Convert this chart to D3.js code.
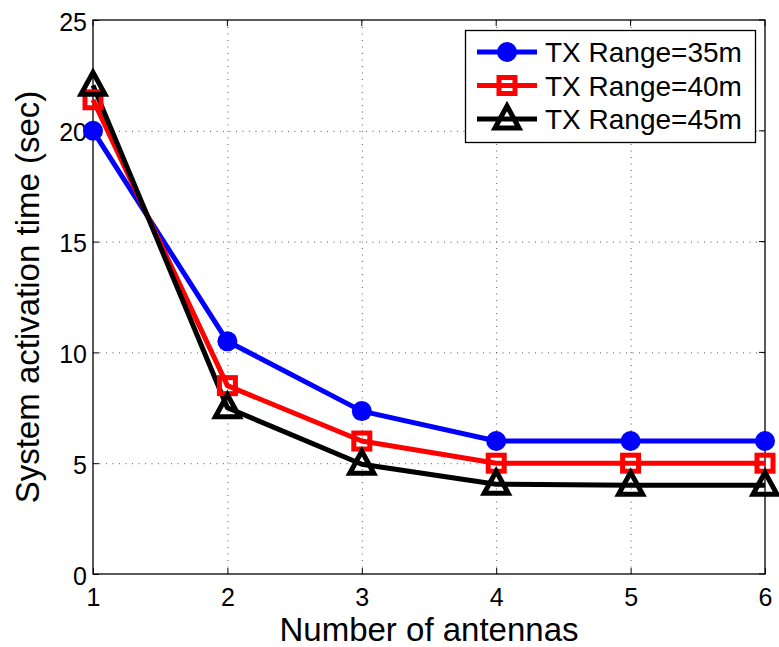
<!DOCTYPE html>
<html>
<head>
<meta charset="utf-8">
<script src="https://cdn.jsdelivr.net/npm/d3@7"></script>
<style>
  body { margin: 0; background: #fff; }
  text { font-family: "Liberation Sans", Arial, sans-serif; fill: #000; }
</style>
</head>
<body>
<div class="chart"></div>
<script>
// data
var antennas = [1, 2, 3, 4, 5, 6];
var range35 = [20, 10.5, 7.35, 6, 6, 6];
var range40 = [21.4, 8.5, 6, 5, 5, 5];
var range45 = [22.05, 7.5, 4.95, 4.05, 4, 4];
var seriesNames = ["TX Range=35m", "TX Range=40m", "TX Range=45m"];
var yTicks = [0, 5, 10, 15, 20, 25];

var width = 779, height = 647;
var mLeft = 93, mRight = 765, mTop = 20, mBottom = 574;

var svg = d3.select(".chart").append("svg")
  .attr("width", width).attr("height", height);

var x = d3.scaleLinear().domain([1, 6]).range([mLeft, mRight]);
var y = d3.scaleLinear().domain([0, 25]).range([mBottom, mTop]);

// grid
var grid = svg.append("g").attr("stroke", "#555").attr("stroke-width", 1)
  .attr("stroke-dasharray", "1,5.5");
grid.selectAll(".gx").data(antennas.slice(1, -1)).enter().append("line")
  .attr("x1", d => x(d) + 0.5).attr("x2", d => x(d) + 0.5)
  .attr("y1", mBottom).attr("y2", mTop);
grid.selectAll(".gy").data(yTicks.slice(1, -1)).enter().append("line")
  .attr("y1", d => y(d) + 0.5).attr("y2", d => y(d) + 0.5)
  .attr("x1", mLeft).attr("x2", mRight);

// axes
var xAxis = svg.append("g").attr("transform", `translate(0,${mBottom})`)
  .call(d3.axisBottom(x).tickValues(antennas).tickSize(-6).tickPadding(14).tickFormat(d3.format("d")));
var yAxis = svg.append("g").attr("transform", `translate(${mLeft},0)`)
  .call(d3.axisLeft(y).tickValues(yTicks).tickSize(-6).tickPadding(6));
[xAxis, yAxis].forEach(a => {
  a.select(".domain").remove();
  a.selectAll("line").attr("stroke", "#000");
  a.selectAll("text").attr("fill", "#000").style("font-size", "25px");
});
xAxis.selectAll("text").attr("dy", "0.72em");
yAxis.selectAll("text").attr("dy", "0.4em");
// top/right ticks
svg.append("g").selectAll("line").data(antennas).enter().append("line")
  .attr("x1", d => x(d)).attr("x2", d => x(d)).attr("y1", mTop).attr("y2", mTop + 6)
  .attr("stroke", "#000");
svg.append("g").selectAll("line").data(yTicks).enter().append("line")
  .attr("y1", d => y(d)).attr("y2", d => y(d)).attr("x1", mRight).attr("x2", mRight - 6)
  .attr("stroke", "#000");

svg.append("rect").attr("x", mLeft).attr("y", mTop)
  .attr("width", mRight - mLeft).attr("height", mBottom - mTop)
  .attr("fill", "none").attr("stroke", "#000").attr("stroke-width", 1.3);

// labels
svg.append("text").attr("x", (mLeft + mRight) / 2).attr("y", 641)
  .attr("text-anchor", "middle").style("font-size", "33px").text("Number of antennas");
svg.append("text").attr("transform", `translate(39,${(mTop + mBottom) / 2}) rotate(-90)`)
  .attr("text-anchor", "middle").style("font-size", "33px").text("System activation time (sec)");

// series
var series = [
  { name: seriesNames[0], values: range35, color: "#0000ff", marker: "circle" },
  { name: seriesNames[1], values: range40, color: "#ff0000", marker: "square" },
  { name: seriesNames[2], values: range45, color: "#000000", marker: "triangle" },
];

var line = d3.line().x((d, i) => x(antennas[i])).y(d => y(d));

function drawMarker(g, type, color) {
  if (type === "circle") {
    g.append("circle").attr("r", 10).attr("fill", color);
  } else if (type === "square") {
    g.append("rect").attr("x", -8).attr("y", -8).attr("width", 16).attr("height", 16)
      .attr("fill", "none").attr("stroke", color).attr("stroke-width", 5);
  } else {
    g.append("path").attr("d", "M0,-13 L12,9 L-12,9 Z")
      .attr("fill", "none").attr("stroke", color).attr("stroke-width", 5)
      .attr("stroke-linejoin", "miter");
  }
}

series.forEach(s => {
  svg.append("path").datum(s.values).attr("d", line)
    .attr("fill", "none").attr("stroke", s.color).attr("stroke-width", 5)
    .attr("stroke-linejoin", "round");
});
series.forEach(s => {
  s.values.forEach((v, i) => {
    var g = svg.append("g").attr("transform", `translate(${x(antennas[i])},${y(v)})`);
    drawMarker(g, s.marker, s.color);
  });
});

// legend
var legend = svg.append("g");
legend.append("rect").attr("x", 465.5).attr("y", 30.5).attr("width", 290).attr("height", 112)
  .attr("fill", "#fff").attr("stroke", "#000").attr("stroke-width", 1.3);
series.forEach((s, i) => {
  var ly = 52 + i * 33.5;
  legend.append("line").attr("x1", 477).attr("x2", 537).attr("y1", ly).attr("y2", ly)
    .attr("stroke", s.color).attr("stroke-width", 5);
  var g = legend.append("g").attr("transform", `translate(507,${ly})`);
  drawMarker(g, s.marker, s.color);
  legend.append("text").attr("x", 545).attr("y", ly).attr("dy", "0.36em")
    .style("font-size", "28px").text(s.name);
});
</script>
</body>
</html>
